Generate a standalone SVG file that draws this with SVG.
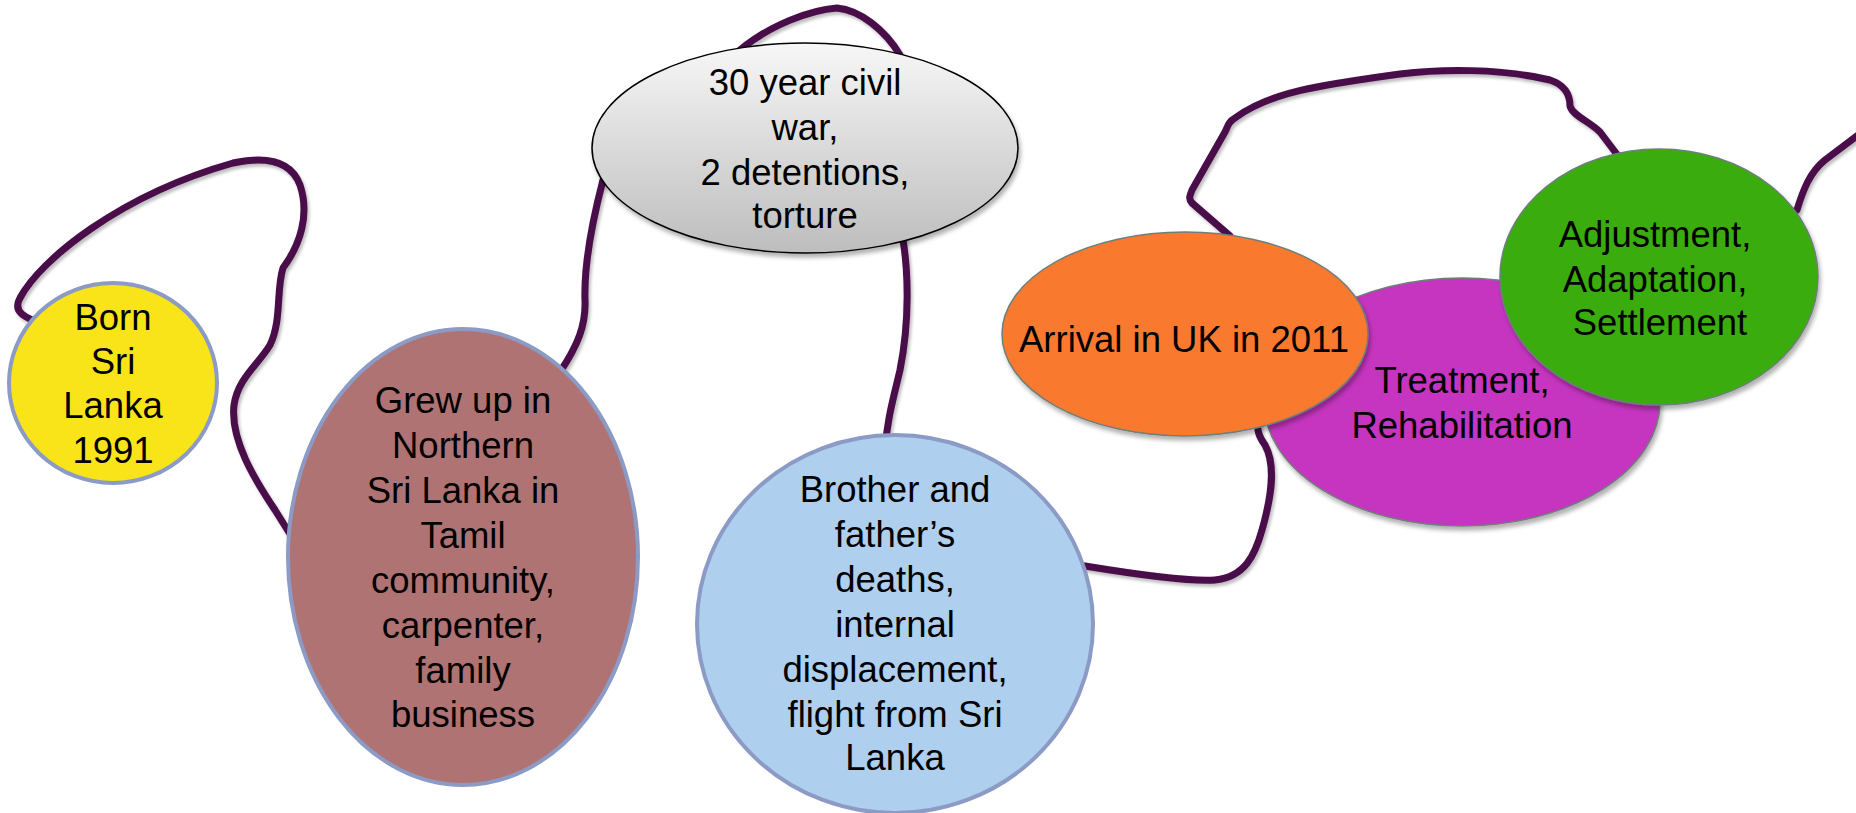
<svg xmlns="http://www.w3.org/2000/svg" width="1856" height="813" viewBox="0 0 1856 813">
<defs>
<linearGradient id="greyGrad" x1="0" y1="0" x2="0" y2="1">
<stop offset="0" stop-color="#f7f7f7"/>
<stop offset="1" stop-color="#bdbdbd"/>
</linearGradient>
<filter id="shadow" x="-10%" y="-10%" width="125%" height="130%">
<feDropShadow dx="2" dy="4" stdDeviation="2" flood-color="#000" flood-opacity="0.3"/>
</filter>
<filter id="lineShadow" x="-5%" y="-5%" width="110%" height="115%">
<feDropShadow dx="2" dy="3" stdDeviation="1.5" flood-color="#000" flood-opacity="0.25"/>
</filter>
</defs>
<style>
.conn{fill:none;stroke:#4a0a4a;stroke-width:7;stroke-linecap:round;stroke-linejoin:round}
.lbl{font-family:"Liberation Sans",Arial,sans-serif;font-size:36.5px;fill:#000;text-anchor:middle}
.bnode{stroke:#8b9bc5;stroke-width:4}
.cnode{stroke:#6e7f7a;stroke-width:1.5}
</style>
<g id="connectors">
<path class="conn" filter="url(#lineShadow)" d="M 45 325 C 25 318, 12 312, 20 298 C 40 260, 120 195, 233 163 C 270 155, 292 163, 300 185 C 310 215, 300 245, 283 268 C 276 290, 282 320, 270 345 C 258 365, 238 378, 234 405 C 230 440, 255 480, 275 510 L 300 550 L 520 420 L 560 372 C 578 345, 586 325, 585 300 C 584 270, 590 230, 603 180 L 640 120 L 740 50 C 770 25, 810 10, 837 8 C 860 10, 885 30, 900 55 L 905 150 L 903 240 C 908 270, 910 320, 900 370 C 893 400, 887 420, 885 450 L 1000 560 L 1085 566 C 1140 575, 1190 582, 1215 580 C 1245 577, 1255 555, 1262 530 C 1272 495, 1276 465, 1265 445 C 1258 435, 1257 430, 1258 420 L 1200 300 L 1230 236 L 1192 203 C 1188 198, 1190 196, 1192 190 L 1225 132 C 1228 126, 1228 122, 1235 118 C 1270 92, 1320 85, 1400 74 C 1440 69, 1500 68, 1550 80 C 1565 85, 1570 95, 1570 106 C 1572 115, 1590 122, 1600 132 L 1625 165 L 1700 250 L 1797 210 C 1803 190, 1810 172, 1825 160 L 1862 132"/>
</g>
<g id="node-born">
<ellipse class="bnode" cx="113" cy="383" rx="104" ry="100" fill="#f8e418"/>
<text class="lbl"><tspan x="113" y="330">Born</tspan><tspan x="113" y="374">Sri</tspan><tspan x="113" y="418">Lanka</tspan><tspan x="113" y="463">1991</tspan></text>
</g>
<g id="node-grew">
<ellipse class="bnode" cx="463" cy="557" rx="175" ry="228" fill="#b07373"/>
<text class="lbl"><tspan x="463" y="413">Grew up in</tspan><tspan x="463" y="458">Northern</tspan><tspan x="463" y="503">Sri Lanka in</tspan><tspan x="463" y="548">Tamil</tspan><tspan x="463" y="593">community,</tspan><tspan x="463" y="638">carpenter,</tspan><tspan x="463" y="683">family</tspan><tspan x="463" y="727">business</tspan></text>
</g>
<g id="node-war">
<ellipse cx="805" cy="148" rx="213" ry="105" fill="url(#greyGrad)" stroke="#000" stroke-width="1.5" filter="url(#shadow)"/>
<text class="lbl"><tspan x="805" y="95">30 year civil</tspan><tspan x="805" y="140">war,</tspan><tspan x="805" y="185">2 detentions,</tspan><tspan x="805" y="228">torture</tspan></text>
</g>
<g id="node-deaths">
<ellipse class="bnode" cx="895" cy="624" rx="198" ry="189" fill="#afcfee"/>
<text class="lbl"><tspan x="895" y="502">Brother and</tspan><tspan x="895" y="547">father’s</tspan><tspan x="895" y="592">deaths,</tspan><tspan x="895" y="637">internal</tspan><tspan x="895" y="682">displacement,</tspan><tspan x="895" y="727">flight from Sri</tspan><tspan x="895" y="770">Lanka</tspan></text>
</g>
<g id="node-treatment">
<ellipse class="cnode" cx="1462" cy="402" rx="198" ry="124" fill="#c535bf" filter="url(#shadow)"/>
<text class="lbl"><tspan x="1462" y="393">Treatment,</tspan><tspan x="1462" y="438">Rehabilitation</tspan></text>
</g>
<g id="node-arrival">
<ellipse class="cnode" cx="1185" cy="334" rx="183" ry="102" fill="#f97a2f" filter="url(#shadow)"/>
<text class="lbl" x="1184" y="352">Arrival in UK in 2011</text>
</g>
<g id="node-adjustment">
<ellipse class="cnode" cx="1659" cy="277" rx="159" ry="128" fill="#3aac11" filter="url(#shadow)"/>
<text class="lbl"><tspan x="1655" y="247">Adjustment,</tspan><tspan x="1655" y="292">Adaptation,</tspan><tspan x="1660" y="335">Settlement</tspan></text>
</g>
</svg>
